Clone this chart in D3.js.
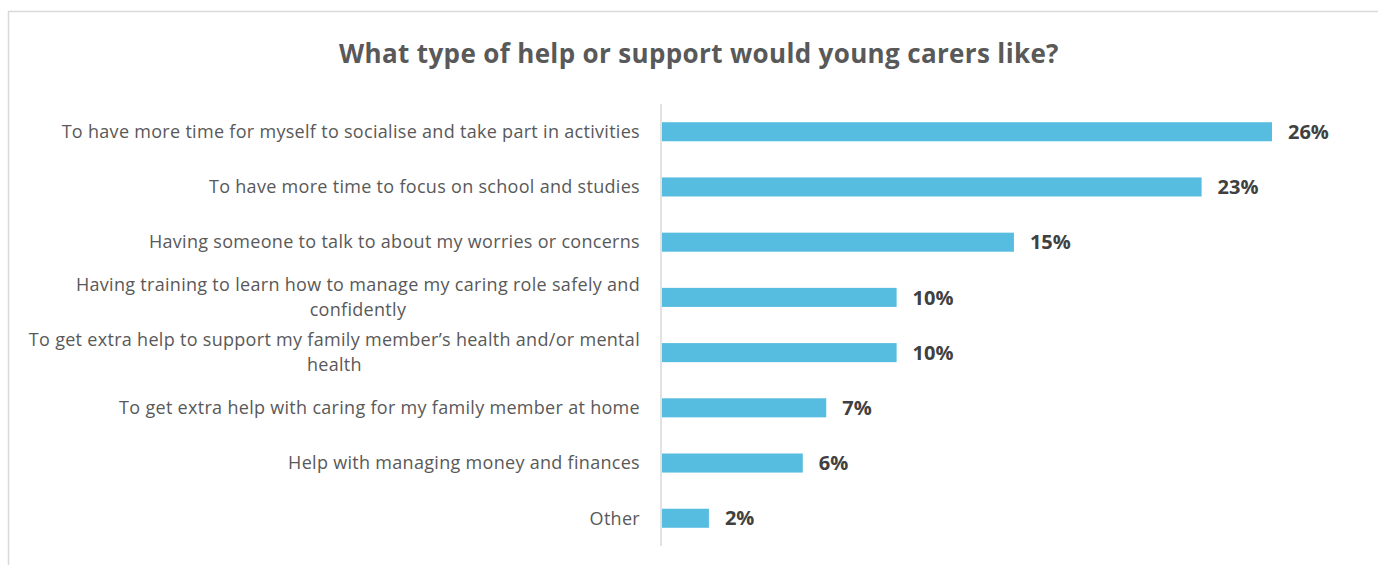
<!DOCTYPE html>
<html><head><meta charset="utf-8">
<script src="https://cdn.jsdelivr.net/npm/d3@7"></script>
<style>body{margin:0;background:#fff}svg{display:block}</style>
</head><body>
<svg id="c" width="1378" height="565"></svg>
<script>
const categories = [
  ["To have more time for myself to socialise and take part in activities"],
  ["To have more time to focus on school and studies"],
  ["Having someone to talk to about my worries or concerns"],
  ["Having training to learn how to manage my caring role safely and", "confidently"],
  ["To get extra help to support my family member\u2019s health and/or mental", "health"],
  ["To get extra help with caring for my family member at home"],
  ["Help with managing money and finances"],
  ["Other"]
];
const values = [26, 23, 15, 10, 10, 7, 6, 2];
const valueLabels = ["26%", "23%", "15%", "10%", "10%", "7%", "6%", "2%"];
const title = "What type of help or support would young carers like?";

const svg = d3.select("#c");

svg.append("rect").attr("x", 8.5).attr("y", 11.5).attr("width", 1400).attr("height", 600)
  .attr("fill", "#fff").attr("stroke", "#d9d9d9").attr("stroke-width", 1.5);

svg.append("text").attr("x", 699).attr("y", 63).attr("text-anchor", "middle")
  .attr("font-family", "'Open Sans', sans-serif").attr("font-weight", "bold").attr("font-size", 26)
  .attr("letter-spacing", 0.35)
  .attr("fill", "#595959").text(title);

const x = d3.scaleLinear().domain([0, 26]).range([662, 1272]);
const y = d3.scaleBand().domain(d3.range(categories.length)).range([104, 546]).paddingInner(0.655).paddingOuter(0.33);

svg.selectAll("rect.bar").data(values).join("rect").attr("class", "bar")
  .attr("x", x(0)).attr("y", (d, i) => y(i)).attr("width", d => x(d) - x(0)).attr("height", y.bandwidth())
  .attr("fill", "#56bce0");

svg.append("line").attr("x1", 661).attr("x2", 661).attr("y1", 104).attr("y2", 546)
  .attr("stroke", "#d9d9d9").attr("stroke-width", 1.5);

svg.selectAll("text.val").data(values).join("text").attr("class", "val")
  .attr("x", d => x(d) + 16).attr("y", (d, i) => y(i) + y.bandwidth() / 2).attr("dy", "0.36em")
  .attr("font-family", "'Open Sans', sans-serif").attr("font-weight", "bold").attr("font-size", 20)
  .attr("fill", "#404040").text((d, i) => valueLabels[i]);

const lab = svg.selectAll("text.lab").data(categories).join("text").attr("class", "lab")
  .attr("font-family", "'Open Sans', sans-serif").attr("font-size", 18).attr("letter-spacing", 0.3)
  .attr("fill", "#595959").attr("text-anchor", "middle");
lab.each(function(lines, i) {
  const t = d3.select(this);
  const cy = y(i) + y.bandwidth() / 2;
  const lh = 25;
  lines.forEach((ln, j) => {
    t.append("tspan").attr("y", cy + (j - (lines.length - 1) / 2) * lh).attr("dy", "0.35em").text(ln);
  });
});
lab.each(function() {
  const tsp = d3.select(this).selectAll("tspan");
  let maxW = 0;
  tsp.each(function() { maxW = Math.max(maxW, this.getComputedTextLength()); });
  tsp.attr("x", 640 - maxW / 2);
});
</script>
</body></html>
